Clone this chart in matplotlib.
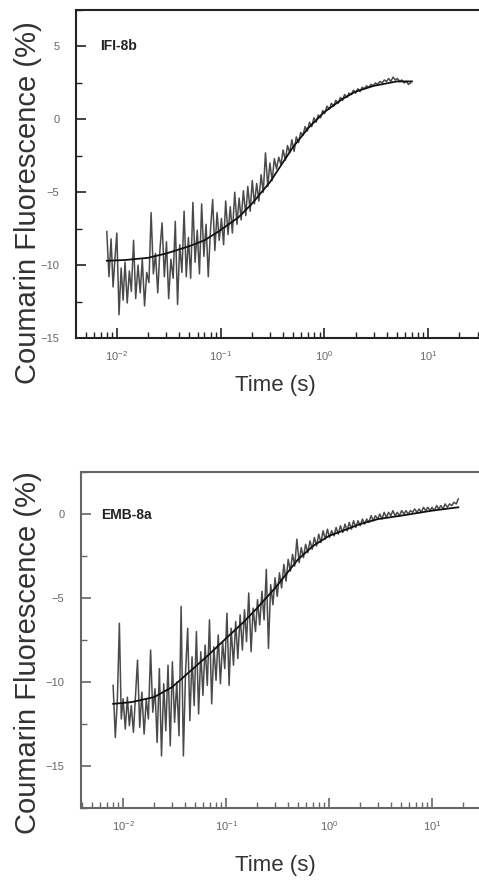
import numpy as np
import matplotlib
matplotlib.use('Agg')
from matplotlib import pyplot as plt
from matplotlib.ticker import LogLocator, MultipleLocator, NullFormatter

plt.rcParams['font.family'] = ['Liberation Sans', 'DejaVu Sans']

# sampling times (s), shared by both traces
time_s = [0.0080, 0.0084, 0.0088, 0.0092, 0.0096, 0.0100, 0.0105, 0.0110, 0.0115, 0.0120,
          0.0126, 0.0132, 0.0138, 0.0145, 0.0152, 0.0160, 0.0168, 0.0176, 0.0185, 0.0194,
          0.0204, 0.0214, 0.0225, 0.0236, 0.0248, 0.0260, 0.0273, 0.0287, 0.0301, 0.0316,
          0.0332, 0.0349, 0.0366, 0.0385, 0.0404, 0.0424, 0.0445, 0.0467, 0.0490, 0.0515,
          0.0541, 0.0568, 0.0596, 0.0626, 0.0657, 0.0690, 0.0725, 0.0761, 0.0799, 0.0839,
          0.0881, 0.0925, 0.0971, 0.102, 0.107, 0.112, 0.118, 0.124, 0.130, 0.137,
          0.144, 0.151, 0.158, 0.166, 0.175, 0.183, 0.193, 0.202, 0.212, 0.223,
          0.234, 0.246, 0.258, 0.271, 0.285, 0.299, 0.314, 0.330, 0.346, 0.364,
          0.382, 0.401, 0.421, 0.442, 0.464, 0.487, 0.512, 0.537, 0.564, 0.592,
          0.622, 0.653, 0.686, 0.720, 0.756, 0.794, 0.834, 0.875, 0.919, 0.965,
          1.01, 1.06, 1.12, 1.17, 1.23, 1.29, 1.36, 1.43, 1.50, 1.57,
          1.65, 1.73, 1.82, 1.91, 2.01, 2.11, 2.21, 2.32, 2.44, 2.56,
          2.69, 2.82, 2.97, 3.11, 3.27, 3.43, 3.61, 3.79, 3.98, 4.17,
          4.38, 4.60, 4.83, 5.07, 5.33, 5.59, 5.87, 6.17, 6.48, 6.80,
          7.14, 7.50, 7.87, 8.27, 8.68, 9.11, 9.57, 10.0, 10.5, 11.1,
          11.6, 12.2, 12.8, 13.4, 14.1, 14.8, 15.6, 16.3, 17.2, 18.0]

# IFI-8b trace (%)
ifi_data = [-7.7, -10.8, -8.2, -11.5, -9.5, -7.8, -13.4, -10.2, -12.4, -9.8,
            -12.6, -10.4, -11.8, -8.3, -12.3, -10.0, -11.9, -9.6, -12.8, -10.5,
            -11.2, -6.4, -10.6, -9.2, -11.9, -9.0, -7.1, -10.8, -8.4, -12.3,
            -9.6, -10.9, -7.0, -12.7, -8.6, -10.5, -6.3, -10.8, -8.1, -10.9,
            -5.7, -9.8, -7.6, -10.6, -5.8, -9.4, -7.2, -10.8, -7.6, -5.5,
            -9.0, -6.4, -8.3, -6.8, -8.6, -5.6, -7.9, -6.0, -7.8, -5.0,
            -7.2, -5.4, -6.9, -4.9, -6.6, -4.6, -6.3, -4.2, -5.8, -4.4,
            -5.6, -3.8, -5.0, -2.3, -4.6, -3.0, -4.2, -2.7, -3.4, -2.6,
            -3.1, -2.1, -2.8, -1.8, -2.3, -1.4, -2.2, -1.2, -1.6, -0.9,
            -1.1, -0.5, -0.8, -0.2, -0.5, 0.1, -0.2, 0.3, 0.1, 0.6,
            0.4, 0.9, 0.7, 1.1, 0.9, 1.3, 1.1, 1.5, 1.3, 1.7,
            1.5, 1.8, 1.7, 2.0, 1.8, 2.1, 1.9, 2.2, 2.1, 2.3,
            2.2, 2.4, 2.3, 2.5, 2.4, 2.6, 2.5, 2.7, 2.6, 2.8,
            2.6, 2.9, 2.7, 2.8, 2.6, 2.7, 2.5, 2.6, 2.4, 2.5]

# EMB-8a trace (%)
emb_data = [-10.2, -13.3, -11.0, -6.5, -12.2, -11.0, -12.8, -10.9, -12.6, -11.4,
            -13.0, -10.8, -8.7, -12.7, -10.6, -13.1, -11.0, -12.2, -8.1, -11.8,
            -10.4, -13.6, -9.2, -14.4, -10.1, -12.9, -9.0, -13.8, -8.8, -12.4,
            -10.0, -13.2, -5.5, -14.4, -9.4, -6.8, -12.3, -8.5, -11.4, -7.0,
            -11.9, -8.2, -10.8, -7.8, -10.2, -6.3, -11.3, -7.9, -9.9, -7.2,
            -10.1, -7.6, -9.2, -5.9, -10.2, -6.8, -9.0, -6.4, -8.6, -6.0,
            -8.1, -5.7, -7.6, -4.7, -8.2, -5.6, -7.0, -5.1, -6.6, -4.6,
            -6.3, -3.3, -8.0, -4.2, -5.4, -3.8, -4.9, -3.5, -4.4, -3.0,
            -4.0, -2.7, -3.4, -2.4, -3.1, -1.5, -2.9, -2.0, -2.6, -1.8,
            -2.3, -1.6, -2.1, -1.4, -1.9, -1.2, -1.7, -1.0, -1.5, -0.9,
            -1.4, -1.0, -1.3, -0.8, -1.2, -0.7, -1.1, -0.6, -1.0, -0.5,
            -0.9, -0.4, -0.8, -0.4, -0.7, -0.3, -0.6, -0.3, -0.5, -0.1,
            -0.4, -0.1, -0.3, 0.0, -0.3, 0.1, -0.2, 0.1, -0.1, 0.2,
            -0.1, 0.1, -0.1, 0.2, 0.0, 0.2, 0.0, 0.2, 0.1, 0.3,
            0.1, 0.3, 0.1, 0.4, 0.2, 0.4, 0.2, 0.4, 0.2, 0.5,
            0.3, 0.5, 0.3, 0.6, 0.4, 0.6, 0.5, 0.7, 0.6, 0.9]

# fitted curves
ifi_fit_t = [0.008, 0.012, 0.02, 0.03, 0.05, 0.07, 0.1, 0.15, 0.2, 0.3, 0.5, 0.7, 1.0, 1.5, 2.0, 3.0, 5.0, 7.0]
ifi_fit = [-9.7, -9.65, -9.5, -9.2, -8.7, -8.3, -7.6, -6.7, -5.8, -4.3, -1.9, -0.6, 0.5, 1.4, 1.9, 2.3, 2.6, 2.6]
emb_fit_t = [0.008, 0.012, 0.02, 0.03, 0.05, 0.07, 0.1, 0.15, 0.2, 0.3, 0.5, 0.7, 1.0, 1.5, 2.0, 3.0, 5.0, 10.0, 18.0]
emb_fit = [-11.3, -11.2, -10.9, -10.3, -9.1, -8.3, -7.4, -6.4, -5.6, -4.4, -2.7, -1.9, -1.3, -0.9, -0.6, -0.3, -0.1, 0.2, 0.4]

fig = plt.figure(figsize=(4.79, 8.88), dpi=100)

panels = [
    # name, data, fit_t, fit, axes rect, xlim, ylim, label pos, ylabel y, xlabel y, spine colour
    ('IFI-8b', ifi_data, ifi_fit_t, ifi_fit, [76/479, 1-338/888, 1-76/479, 328/888],
     (0.00404, 31), (-15, 7.5), (0.06, 0.89), 0.772, 0.566, '#222222'),
    ('EMB-8a', emb_data, emb_fit_t, emb_fit, [81/479, 1-808/888, 1-81/479, 336/888],
     (0.0039, 28.6), (-17.5, 2.5), (0.05, 0.872), 0.265, 0.025, '#666666'),
]

for name, data, ft, fv, rect, xl, yl, lp, ylab_y, xlab_y, spc in panels:
    ax = fig.add_axes(rect)
    ax.plot(time_s[:len(data)], data, color='#4a4a4a', lw=1.1)
    ax.plot(ft, fv, color='#111111', lw=1.3)
    ax.set_xscale('log')
    ax.set_xlim(*xl)
    ax.set_ylim(*yl)
    ax.xaxis.set_major_locator(LogLocator(base=10, numticks=10))
    ax.xaxis.set_minor_locator(LogLocator(base=10, subs=np.arange(2, 10), numticks=10))
    ax.xaxis.set_minor_formatter(NullFormatter())
    ax.yaxis.set_major_locator(MultipleLocator(5))
    ax.yaxis.set_minor_locator(MultipleLocator(2.5))
    ax.tick_params(which='both', direction='in', colors=spc, labelcolor='#666666', labelsize=8)
    ax.tick_params(which='major', length=7, width=1.2)
    ax.tick_params(which='minor', length=4, width=1.0)
    ax.tick_params(axis='x', pad=8)
    ax.tick_params(axis='y', pad=12)
    ax.spines['right'].set_visible(False)
    for s in ['left', 'top', 'bottom']:
        ax.spines[s].set_color(spc)
        ax.spines[s].set_linewidth(1.5)
    ax.text(lp[0], lp[1], name, transform=ax.transAxes, fontsize=10, fontweight='bold',
            color='#222222', ha='left', va='center')
    fig.text(28/479, ylab_y, 'Coumarin Fluorescence (%)', rotation=90, fontsize=21,
             color='#333333', ha='center', va='center')
    fig.text(275/479, xlab_y, 'Time (s)', fontsize=16, color='#333333', ha='center', va='center')

fig.savefig('out.png', dpi=100)
